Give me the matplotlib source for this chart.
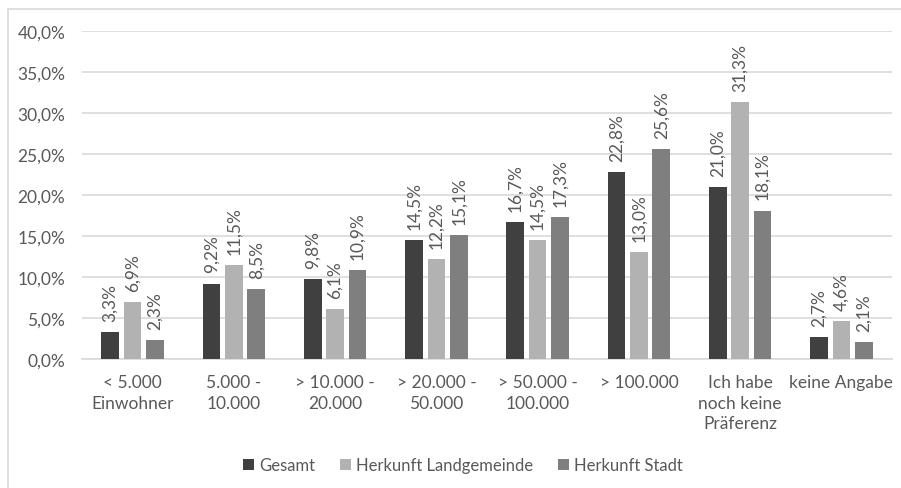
import matplotlib
matplotlib.use("Agg")
import matplotlib.pyplot as plt
import numpy as np
from matplotlib.patches import Rectangle

categories = ["< 5.000\nEinwohner", "5.000 -\n10.000", "> 10.000 -\n20.000", "> 20.000 -\n50.000",
              "> 50.000 -\n100.000", "> 100.000", "Ich habe\nnoch keine\nPräferenz", "keine Angabe"]
gesamt = [3.3, 9.2, 9.8, 14.5, 16.7, 22.8, 21.0, 2.7]
landgemeinde = [6.9, 11.5, 6.1, 12.2, 14.5, 13.0, 31.3, 4.6]
stadt = [2.3, 8.5, 10.9, 15.1, 17.3, 25.6, 18.1, 2.1]
series_names = ["Gesamt", "Herkunft Landgemeinde", "Herkunft Stadt"]
colors = ["#404040", "#B2B2B2", "#7F7F7F"]

plt.rcParams['font.family'] = ['Lato', 'DejaVu Sans']
text_col = "#595959"
fs = 12.5

fig = plt.figure(figsize=(9.01, 4.89), dpi=100)
ax = fig.add_axes([82 / 901, 1 - 360 / 489, 810 / 901, 328 / 489])

# chart border (cropped on right and bottom)
fig.patches.append(Rectangle((8 / 901, -0.1), 1.2, 1 - 10 / 489 + 0.1, transform=fig.transFigure,
                             fill=False, edgecolor="#D9D9D9", linewidth=1.2))

x = np.arange(len(categories))
width = 0.175
offsets = [-0.222, 0.0, 0.222]
for vals, off, col, name in zip([gesamt, landgemeinde, stadt], offsets, colors, series_names):
    ax.bar(x + off, vals, width, color=col, label=name, zorder=3)
    for xi, v in zip(x + off, vals):
        ax.annotate(f"{v:.1f}%".replace(".", ","), (xi, v), xytext=(0, 8), textcoords="offset points",
                    rotation=90, ha="center", va="bottom", fontsize=fs, color=text_col)

ax.set_xlim(-0.5, len(categories) - 0.5)
ax.set_ylim(0, 40)
ax.set_yticks(np.arange(0, 41, 5))
ax.set_yticklabels([f"{t:.1f}%".replace(".", ",") for t in np.arange(0, 41, 5)])
ax.yaxis.grid(True, color="#D9D9D9", linewidth=1.2, zorder=0)
ax.set_axisbelow(True)
for s in ["top", "right", "left"]:
    ax.spines[s].set_visible(False)
ax.spines["bottom"].set_color("#D9D9D9")
ax.spines["bottom"].set_linewidth(1.2)
ax.tick_params(axis="both", length=0, labelsize=fs, colors=text_col)
ax.tick_params(axis="y", pad=12)
ax.tick_params(axis="x", pad=11)
ax.set_xticks(x)
ax.set_xticklabels(categories, linespacing=1.35)

leg = fig.legend(loc="center", bbox_to_anchor=(463 / 901, 1 - 466 / 489), ncol=3, frameon=False,
                 fontsize=12, handlelength=0.65, handleheight=0.65, handletextpad=0.3, columnspacing=1.5)
for t in leg.get_texts():
    t.set_color(text_col)

fig.savefig("out.png", dpi=100, facecolor="white")
